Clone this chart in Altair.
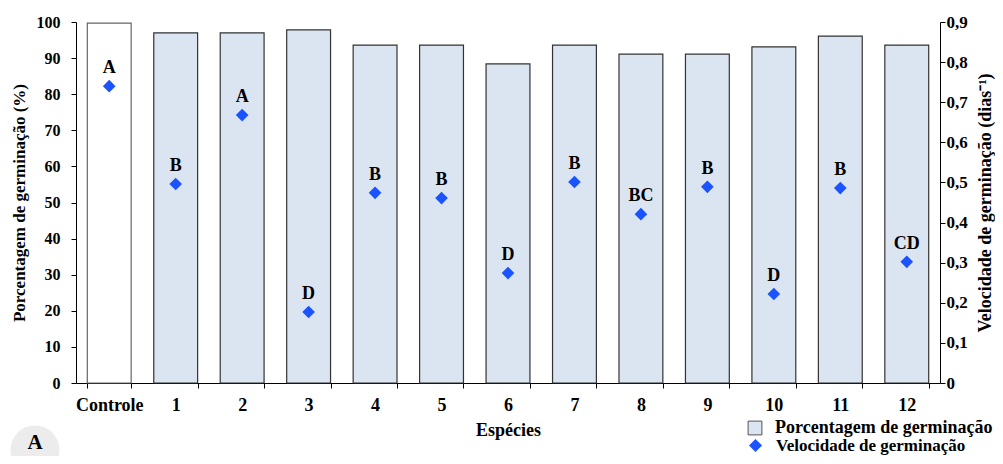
import altair as alt
import pandas as pd

especies = ["Controle", "1", "2", "3", "4", "5", "6", "7", "8", "9", "10", "11", "12"]
porcentagem = [99.7, 97.0, 97.0, 97.8, 93.6, 93.6, 88.4, 93.6, 91.1, 91.1, 93.1, 96.1, 93.6]
velocidade = [0.740, 0.496, 0.668, 0.177, 0.474, 0.461, 0.274, 0.501, 0.421, 0.489, 0.222, 0.486, 0.302]
letras = ["A", "B", "A", "D", "B", "B", "D", "B", "BC", "B", "D", "B", "CD"]

FONT = "'Liberation Serif', 'Times New Roman', Times, serif"
serie_pct = "Porcentagem de germinação"
serie_vel = "Velocidade de germinação"

df = pd.DataFrame({
    "especie": especies,
    "pct": porcentagem,
    "vel": velocidade,
    "letra": letras,
    "serie": [serie_pct] * len(especies),
    "serie2": [serie_vel] * len(especies),
})

x_enc = alt.X(
    "especie:N",
    sort=especies,
    scale=alt.Scale(paddingInner=0.34, paddingOuter=0.17),
    axis=alt.Axis(
        title="Espécies", labelAngle=0, tickBand="extent", tickSize=5,
        labelPadding=8, titlePadding=7, labelFontSize=18, titleFontSize=18,
        domainColor="black", tickColor="black",
    ),
)

bars = alt.Chart(df).mark_bar(strokeWidth=1.2).encode(
    x=x_enc,
    y=alt.Y(
        "pct:Q",
        scale=alt.Scale(domain=[0, 100]),
        axis=alt.Axis(
            title="Porcentagem de germinação (%)", values=list(range(0, 101, 10)),
            tickSize=5, labelPadding=11, titlePadding=8, labelFontSize=16,
            titleFontSize=17, grid=False, domainColor="black", tickColor="black",
        ),
    ),
    fill=alt.condition(
        alt.datum.especie == "Controle",
        alt.value("white"),
        alt.Fill(
            "serie:N",
            scale=alt.Scale(domain=[serie_pct], range=["#dbe5f1"]),
            legend=alt.Legend(
                title=None, orient="none", legendX=670, legendY=397,
                symbolType="square", symbolSize=190, symbolStrokeColor="#555",
                symbolStrokeWidth=1, labelFontSize=18, labelOffset=11,
                labelFont=FONT, labelFontWeight="bold", padding=0, labelLimit=400,
            ),
        ),
    ),
    stroke=alt.condition(
        alt.datum.especie == "Controle", alt.value("#666666"), alt.value("#333333")
    ),
)

y2 = alt.Y(
    "vel:Q",
    scale=alt.Scale(domain=[0, 0.9]),
    axis=alt.Axis(
        orient="right", title="Velocidade de germinação (dias⁻¹)",
        values=[0, 0.1, 0.2, 0.3, 0.4, 0.5, 0.6, 0.7, 0.8, 0.9],
        labelExpr="datum.value == 0 ? '0' : replace(format(datum.value, '.1f'), '.', ',')",
        tickSize=5, labelPadding=1, titlePadding=27, labelFontSize=17,
        titleFontSize=18, titleAngle=270, grid=False,
        domainColor="black", tickColor="black",
    ),
)

points = alt.Chart(df).mark_point(filled=True, size=160, opacity=1, color="#1a53ff").encode(
    x=alt.X("especie:N", sort=especies),
    y=y2,
    shape=alt.Shape(
        "serie2:N",
        scale=alt.Scale(domain=[serie_vel], range=["diamond"]),
        legend=alt.Legend(
            title=None, orient="none", legendX=671, legendY=415,
            symbolFillColor="#1a53ff", symbolStrokeColor="#1a53ff",
            symbolSize=170, labelFontSize=17, labelOffset=12,
            labelFont=FONT, labelFontWeight="bold", padding=0, labelLimit=400,
        ),
    ),
)

text = alt.Chart(df).mark_text(
    dy=-18, font=FONT, fontWeight="bold", fontSize=18, color="black"
).encode(
    x=alt.X("especie:N", sort=especies),
    y=alt.Y("vel:Q", scale=alt.Scale(domain=[0, 0.9])),
    text="letra:N",
)

badge_df = pd.DataFrame({"rotulo": ["A"]})
badge = alt.Chart(badge_df).mark_circle(size=2400, color="#ececec", opacity=1).encode(
    x=alt.value(-41), y=alt.value(428)
)
badge_text = alt.Chart(badge_df).mark_text(
    font=FONT, fontWeight="bold", fontSize=21, color="black", baseline="middle"
).encode(x=alt.value(-41), y=alt.value(421), text="rotulo:N")

right = alt.layer(points, text)

chart = alt.layer(bars, right, badge, badge_text).resolve_scale(
    y="independent"
).properties(
    width=864, height=361,
    autosize=alt.AutoSizeParams(type="none"),
    padding={"left": 68, "top": 14, "right": 55, "bottom": 73},
).configure_view(stroke=None).configure_axis(
    labelFont=FONT, titleFont=FONT, labelFontWeight="bold", titleFontWeight="bold",
    labelColor="black", titleColor="black",
).configure_legend(labelColor="black")

chart.save("out.html", embed_options={"renderer": "svg", "actions": False})
